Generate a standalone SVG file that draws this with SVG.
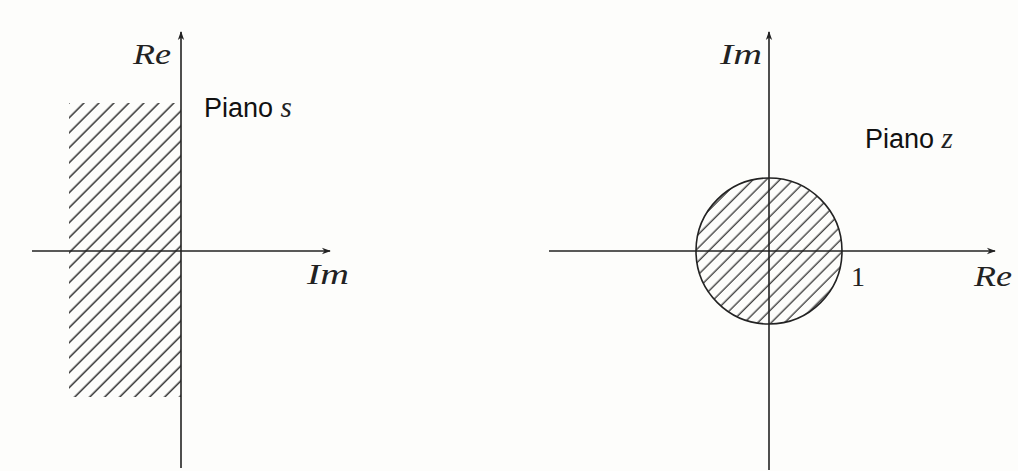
<svg xmlns="http://www.w3.org/2000/svg" width="1018" height="471" viewBox="0 0 1018 471">
<style>
.ax{stroke:#222;stroke-width:1.6;fill:none}
.m{font-family:"Liberation Serif",serif;font-style:italic;font-size:29px;fill:#222}
.n{font-family:"Liberation Serif",serif;font-size:28px;fill:#222}
.s{font-family:"Liberation Sans",sans-serif;font-size:27px;fill:#111}
</style>
<defs>
<marker id="ar" viewBox="0 0 10 10" refX="9" refY="5" markerWidth="10" markerHeight="9" markerUnits="userSpaceOnUse" orient="auto">
<path d="M0,1.5 L10,5 L0,8.5 L3,5 Z" fill="#222"/>
</marker>
<pattern id="h1" width="10.6" height="10.6" patternUnits="userSpaceOnUse" patternTransform="rotate(-45)">
<line x1="0" y1="5" x2="10.6" y2="5" stroke="#222" stroke-width="1.4"/>
</pattern>
<pattern id="h2" width="9.5" height="9.5" patternUnits="userSpaceOnUse" patternTransform="rotate(-45)">
<line x1="0" y1="4" x2="9.5" y2="4" stroke="#222" stroke-width="1.2"/>
</pattern>
</defs>
<rect width="1018" height="471" fill="#fdfdfb"/>
<g id="region-s">
<rect x="69" y="103" width="112" height="294" fill="url(#h1)"/>
</g>
<g id="region-z">
<circle cx="769" cy="251" r="73" fill="url(#h2)" stroke="#222" stroke-width="1.6"/>
</g>
<g id="connectors">
<line class="ax" x1="181" y1="468" x2="181" y2="32" marker-end="url(#ar)"/>
<line class="ax" x1="32" y1="251" x2="330" y2="251" marker-end="url(#ar)"/>
<line class="ax" x1="769" y1="470" x2="769" y2="32" marker-end="url(#ar)"/>
<line class="ax" x1="549" y1="251" x2="995" y2="251" marker-end="url(#ar)"/>
</g>
<g id="labels-s">
<text class="m" x="133" y="64" textLength="38" lengthAdjust="spacingAndGlyphs">Re</text>
<text class="s" x="204" y="117">Piano <tspan class="m" font-size="30">s</tspan></text>
<text class="m" x="307" y="284" textLength="42" lengthAdjust="spacingAndGlyphs">Im</text>
</g>
<g id="labels-z">
<text class="m" x="720" y="64" textLength="42" lengthAdjust="spacingAndGlyphs">Im</text>
<text class="s" x="865" y="148">Piano <tspan class="m" font-size="30">z</tspan></text>
<text class="n" x="851" y="286">1</text>
<text class="m" x="974" y="286" textLength="38" lengthAdjust="spacingAndGlyphs">Re</text>
</g>
</svg>
